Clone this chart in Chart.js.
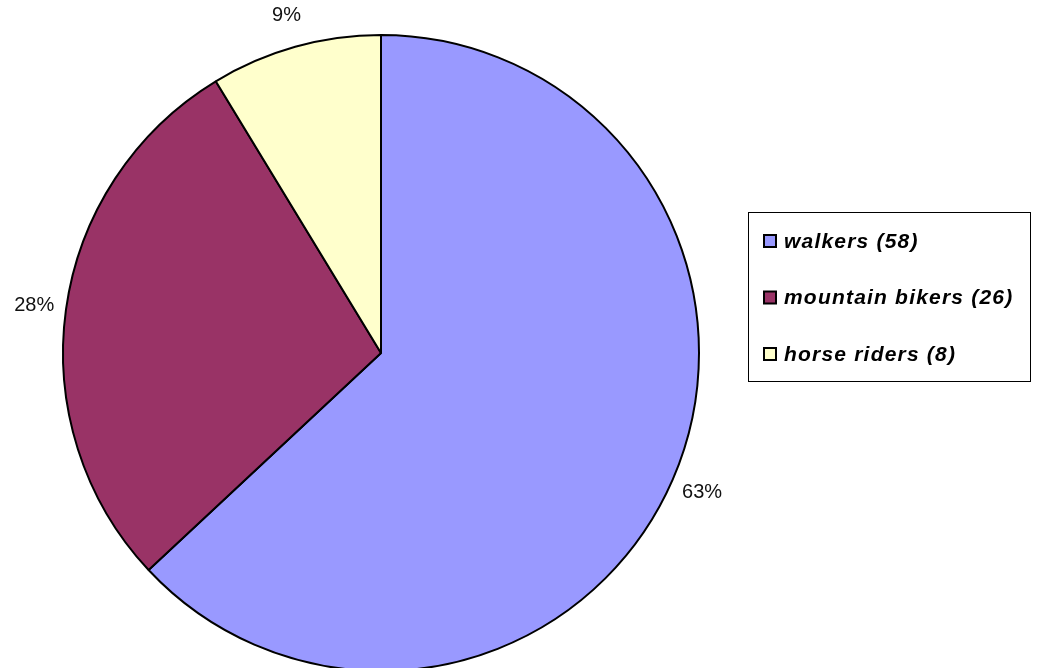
<!DOCTYPE html>
<html>
<head>
<meta charset="utf-8">
<script src="https://cdn.jsdelivr.net/npm/chart.js@4"></script>
<style>
  html, body { margin: 0; padding: 0; background: #fff; }
  #wrap { position: relative; width: 1038px; height: 668px; }
</style>
</head>
<body>
<div id="wrap"><canvas id="pieChart"></canvas></div>
<script>
const categories = ['walkers', 'mountain bikers', 'horse riders'];
const counts = [58, 26, 8];
const sliceColors = ['#9999FF', '#993366', '#FFFFCC'];

// percentage labels outside each slice
const percentLabels = {
  id: 'percentLabels',
  afterDatasetsDraw(chart) {
    const ctx = chart.ctx;
    const meta = chart.getDatasetMeta(0);
    const total = counts.reduce((a, b) => a + b, 0);
    ctx.save();
    ctx.font = '20px "Liberation Sans", Arial, sans-serif';
    ctx.fillStyle = '#111';
    ctx.textAlign = 'center';
    ctx.textBaseline = 'middle';
    meta.data.forEach((arc, i) => {
      const mid = (arc.startAngle + arc.endAngle) / 2;
      const r = arc.outerRadius + 32;
      const x = arc.x + Math.cos(mid) * r;
      const y = arc.y + Math.sin(mid) * r;
      ctx.fillText(Math.round(counts[i] / total * 100) + '%', x, y);
    });
    ctx.restore();
  }
};

// boxed legend on the right
const boxLegend = {
  id: 'boxLegend',
  afterDraw(chart) {
    const ctx = chart.ctx;
    const left = 748, top = 212, w = 282, h = 169;
    ctx.save();
    ctx.strokeStyle = '#000';
    ctx.lineWidth = 1;
    ctx.strokeRect(left + 0.5, top + 0.5, w, h);
    ctx.font = 'italic bold 21px "Liberation Sans", Arial, sans-serif';
    ctx.letterSpacing = '1.2px';
    ctx.textBaseline = 'middle';
    ctx.textAlign = 'left';
    categories.forEach((name, i) => {
      const cy = 241 + i * 56.5;
      ctx.fillStyle = sliceColors[i];
      ctx.fillRect(764, cy - 6, 12, 12);
      ctx.strokeStyle = '#000';
      ctx.lineWidth = 2;
      ctx.strokeRect(764, cy - 6, 12, 12);
      ctx.fillStyle = '#000';
      ctx.fillText(name + ' (' + counts[i] + ')', 784, cy + 1);
    });
    ctx.restore();
  }
};

new Chart(document.getElementById('pieChart').getContext('2d'), {
  type: 'pie',
  data: {
    labels: categories,
    datasets: [{
      data: counts,
      backgroundColor: sliceColors,
      borderColor: '#000',
      borderWidth: 2,
      radius: 318,
      hoverOffset: 0
    }]
  },
  options: {
    responsive: true,
    maintainAspectRatio: false,
    animation: false,
    layout: { padding: { left: 0, right: 276, top: 38, bottom: 0 } },
    plugins: {
      legend: { display: false },
      tooltip: { enabled: false }
    }
  },
  plugins: [percentLabels, boxLegend]
});
</script>
</body>
</html>
